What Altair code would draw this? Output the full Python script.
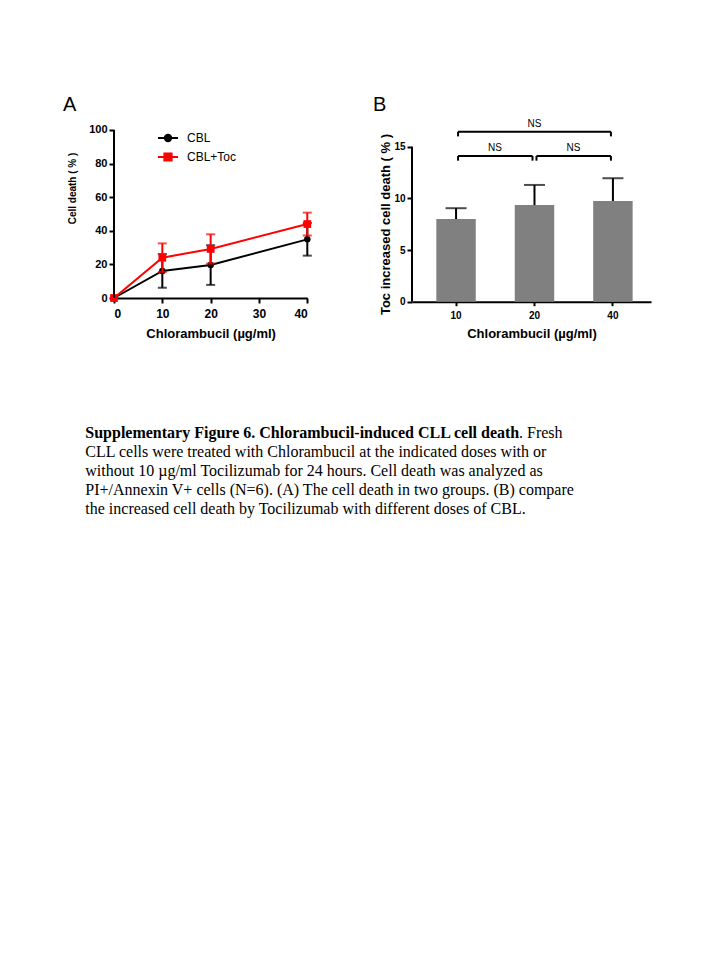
import altair as alt
import pandas as pd

# ---------------- Panel A data ----------------
doses = [0, 10, 20, 40]
cbl_mean = [0, 16.1, 19.6, 34.9]
cbl_sd = [0, 10.0, 11.8, 9.7]
toc_mean = [0, 24.0, 29.2, 44.0]
toc_sd = [0, 8.5, 8.7, 6.8]
series_names = ["CBL", "CBL+Toc"]
series_colors = ["#000000", "#FF0000"]
a_x_ticks = [0, 10, 20, 30, 40]
a_y_ticks = [0, 20, 40, 60, 80, 100]

# ---------------- Panel B data ----------------
bar_doses = ["10", "20", "40"]
bar_mean = [8.0, 9.35, 9.75]
bar_sd = [1.05, 1.95, 2.2]
b_y_ticks = [0, 5, 10, 15]
bracket_from = ["10", "20", "10"]
bracket_to = ["20", "40", "40"]
bracket_level = [14.1, 14.1, 16.45]
bracket_text = ["NS", "NS", "NS"]

# ---------------- Caption ----------------
caption_bold = "Supplementary Figure 6. Chlorambucil-induced  CLL cell death"
caption_first_rest = ". Fresh"
caption_lines = [
    "CLL cells were treated with Chlorambucil  at the indicated doses with or",
    "without 10 \u00b5g/ml  Tocilizumab  for 24 hours. Cell death was analyzed as",
    "PI+/Annexin V+ cells  (N=6). (A) The cell death in two groups.  (B) compare",
    "the  increased cell death by Tocilizumab  with different doses of CBL.",
]

SANS = "Liberation Sans"
SERIF = "Liberation Serif"

# ---------------- Panel A ----------------
rows = []
for name, means, sds in [(series_names[0], cbl_mean, cbl_sd), (series_names[1], toc_mean, toc_sd)]:
    for d, m, s in zip(doses, means, sds):
        rows.append({"series": name, "dose": d, "mean": m, "sd": s, "lo": m - s, "hi": m + s})
dfA = pd.DataFrame(rows)

A_W, A_H = 193.3, 180
A_YMAX = 107.1
xA_title = "Chlorambucil (\u00b5g/ml)"
yA_title = "Cell death ( % )"

xA_scale = alt.Scale(domain=[0, 40], nice=False)
xA_axis = alt.Axis(values=a_x_ticks, labelFontSize=12, titleFontSize=13,
                   labelPadding=5, titlePadding=8, format="d", labelOverlap=False)
yA_scale = alt.Scale(domain=[0, A_YMAX], nice=False)
yA_axis = alt.Axis(values=a_y_ticks, domain=False, labelFontSize=11, titleFontSize=10,
                   labelPadding=2, titlePadding=11, titleY=70, labelOverlap=False,
                   format="d", tickCount=6)


def yq(field):
    return alt.Y(field, title=yA_title, scale=yA_scale, axis=yA_axis)


def xq(field):
    return alt.X(field, title=xA_title, scale=xA_scale, axis=xA_axis)


baseA = alt.Chart(dfA)
shape_list = ["circle", "square"]
size_list = [42, 60]

lines = []
errs = []
for name, color, shp, sz in zip(series_names, series_colors, shape_list, size_list):
    sub = baseA.transform_filter(alt.datum.series == name)
    lines.append(sub.mark_line(color=color, strokeWidth=2).encode(x=xq("dose:Q"), y=yq("mean:Q")))
    e = sub.transform_filter("datum.sd > 0")
    grp = [
        e.mark_rule(color=color, strokeWidth=2).encode(x=xq("dose:Q"), y=yq("lo:Q"), y2="hi:Q"),
        e.mark_tick(color=color, orient="horizontal", size=9, thickness=2).encode(x=xq("dose:Q"), y=yq("lo:Q")),
        e.mark_tick(color=color, orient="horizontal", size=9, thickness=2).encode(x=xq("dose:Q"), y=yq("hi:Q")),
        sub.mark_point(filled=True, color=color, opacity=1, shape=shp, size=sz).encode(x=xq("dose:Q"), y=yq("mean:Q")),
    ]
    errs.extend(grp)

axis_rule_A = alt.Chart(pd.DataFrame({"lo": [min(a_y_ticks)], "hi": [max(a_y_ticks)]})).mark_rule(
    color="black", strokeWidth=2).encode(x=alt.value(0), y=yq("lo:Q"), y2="hi:Q")

circle_path = "M-1,0L1,0M-0.32,0A0.32,0.32,0,1,1,0.32,0A0.32,0.32,0,1,1,-0.32,0Z"
square_path = "M-1,0L1,0M-0.36,-0.36L0.36,-0.36L0.36,0.36L-0.36,0.36Z"
leg = alt.Legend(title=None, orient="none", legendX=43, legendY=9, symbolSize=400,
                 symbolStrokeWidth=2, labelFont=SANS, labelFontSize=12, labelOffset=8,
                 labelColor="black", rowPadding=0, padding=0)
color_scale = alt.Scale(domain=series_names, range=series_colors)
legend_layer = alt.Chart(dfA).mark_point(filled=True, opacity=1, strokeWidth=2).encode(
    color=alt.Color("series:N", scale=color_scale, legend=leg),
    stroke=alt.Stroke("series:N", scale=color_scale, legend=leg),
    shape=alt.Shape("series:N", scale=alt.Scale(domain=series_names, range=[circle_path, square_path]), legend=leg),
).transform_filter("false")

CAP_X = -28.7
cap_bold = alt.Chart(pd.DataFrame({"t": [caption_bold]})).mark_text(
    align="left", baseline="alphabetic", font=SERIF, fontSize=16, fontWeight="bold", color="black"
).encode(x=alt.value(CAP_X), y=alt.value(320), text="t:N")
cap_rest1 = alt.Chart(pd.DataFrame({"t": [caption_first_rest]})).mark_text(
    align="left", baseline="alphabetic", font=SERIF, fontSize=16, color="black"
).encode(x=alt.value(405), y=alt.value(320), text="t:N")
cap_rest = alt.Chart(pd.DataFrame({"t": ["\n".join(caption_lines)]})).mark_text(
    align="left", baseline="alphabetic", font=SERIF, fontSize=16, color="black",
    lineBreak="\n", lineHeight=19
).encode(x=alt.value(CAP_X), y=alt.value(339), text="t:N")

panelA = alt.layer(*lines, *errs, axis_rule_A, legend_layer, cap_bold, cap_rest1, cap_rest).properties(
    width=A_W, height=A_H,
    title=alt.TitleParams("A", anchor="start", frame="group", dx=-51, fontSize=20, font=SANS,
                          fontWeight="normal", color="black", offset=3),
)

# ---------------- Panel B ----------------
dfB = pd.DataFrame({"dose": bar_doses, "mean": bar_mean,
                    "hi": [m + s for m, s in zip(bar_mean, bar_sd)]})
B_W, B_H = 239, 183.7
B_YMAX = 17.78
xB_title = "Chlorambucil (\u00b5g/ml)"
yB_title = "Toc increased cell death ( % )"
xB_scale = alt.Scale(domain=bar_doses, paddingInner=0.497, paddingOuter=0.272, align=0.57)
xB_axis = alt.Axis(labelAngle=0, labelFontSize=10, titleFontSize=13, tickSize=4,
                   labelPadding=5, titlePadding=7)
yB_scale = alt.Scale(domain=[0, B_YMAX], nice=False)
yB_axis = alt.Axis(values=b_y_ticks, domain=False, labelFontSize=10, titleFontSize=13,
                   labelPadding=2, titlePadding=1, titleY=106, labelOverlap=False)


def xb(field):
    return alt.X(field, title=xB_title, sort=bar_doses, scale=xB_scale, axis=xB_axis)


def yb(field):
    return alt.Y(field, title=yB_title, scale=yB_scale, axis=yB_axis)


baseB = alt.Chart(dfB)
bars = baseB.mark_bar(color="#808080").encode(x=xb("dose:N"), y=yb("mean:Q"))
berr = baseB.mark_rule(color="black", strokeWidth=2).encode(x=xb("dose:N"), y=yb("mean:Q"), y2="hi:Q")
bcap = baseB.mark_tick(color="black", orient="horizontal", size=21, thickness=2).encode(
    x=xb("dose:N"), y=yb("hi:Q"))
axis_rule_B = alt.Chart(pd.DataFrame({"lo": [min(b_y_ticks)], "hi": [max(b_y_ticks)]})).mark_rule(
    color="black", strokeWidth=2).encode(x=alt.value(0), y=yb("lo:Q"), y2="hi:Q")

br_rows = []
for f, t, lv, tx in zip(bracket_from, bracket_to, bracket_level, bracket_text):
    i0, i1 = bar_doses.index(f), bar_doses.index(t)
    mid = (i0 + i1) / 2
    half = mid != int(mid)
    br_rows.append({"from": f, "to": t, "level": lv, "low": lv - 0.45, "text": tx,
                    "at": bar_doses[int(mid)], "half": half})
dfBr = pd.DataFrame(br_rows)
baseBr = alt.Chart(dfBr)
br_h = baseBr.mark_rule(color="black", strokeWidth=2, xOffset=2, x2Offset=-2).encode(
    x=xb("from:N"), x2="to:N", y=yb("level:Q"))
br_l = baseBr.mark_rule(color="black", strokeWidth=2, xOffset=2).encode(
    x=xb("from:N"), y=yb("level:Q"), y2="low:Q")
br_r = baseBr.mark_rule(color="black", strokeWidth=2, xOffset=-2).encode(
    x=xb("to:N"), y=yb("level:Q"), y2="low:Q")
ns_half = baseBr.transform_filter("datum.half").mark_text(
    font=SANS, fontSize=10, baseline="bottom", dx=39, dy=-3, color="black").encode(
    x=xb("at:N"), y=yb("level:Q"), text="text:N")
ns_full = baseBr.transform_filter("!datum.half").mark_text(
    font=SANS, fontSize=10, baseline="bottom", dy=-3, color="black").encode(
    x=xb("at:N"), y=yb("level:Q"), text="text:N")

panelB = alt.layer(bars, berr, bcap, axis_rule_B, br_h, br_l, br_r, ns_half, ns_full).properties(
    width=B_W, height=B_H,
    title=alt.TitleParams("B", anchor="start", frame="group", dx=-39, fontSize=20, font=SANS,
                          fontWeight="normal", color="black", offset=3),
)

chart = alt.hconcat(panelA, panelB, spacing=104, bounds="flush").properties(
    padding={"left": 55, "top": 87, "right": 10, "bottom": 10}
).configure_view(stroke=None).configure_axis(
    grid=False, domainColor="black", domainWidth=2, tickColor="black", tickWidth=2, tickSize=5,
    labelColor="black", titleColor="black", labelFont=SANS, titleFont=SANS,
    labelFontWeight="bold", titleFontWeight="bold",
)

chart.save("out.html", embed_options={"renderer": "svg", "actions": False})
